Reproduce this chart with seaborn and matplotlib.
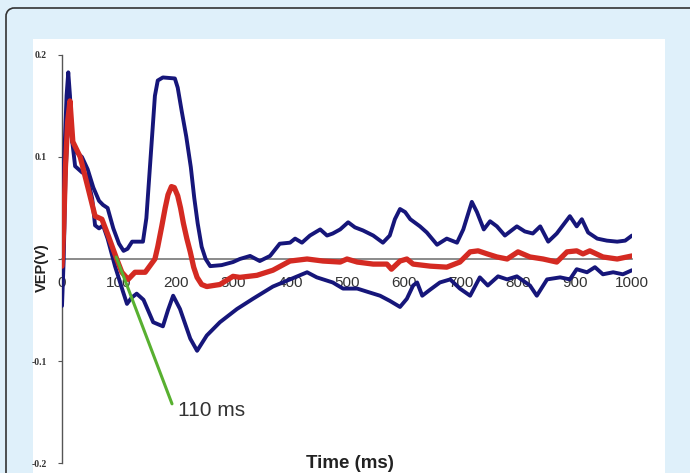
import matplotlib
matplotlib.use("Agg")
import matplotlib.pyplot as plt
import seaborn as sns
import pandas as pd
from matplotlib.patches import Arc, Rectangle

# ---------------- data ----------------
upper_t = [0, 4, 8, 11, 14, 18, 25, 35, 45, 55, 65, 72, 80, 90, 100, 108, 115, 123, 142,
           148, 153, 158, 163, 168, 177, 198, 203, 210, 218, 226, 232, 238, 245, 252, 260,
           280, 300, 312, 330, 347, 365, 382, 400, 409, 421, 435, 453, 465, 475, 488, 502,
           514, 528, 546, 563, 575, 584, 593, 602, 611, 628, 640, 658, 675, 693, 704, 719,
           728, 740, 751, 763, 777, 798, 812, 826, 839, 853, 868, 891, 903, 912, 923, 939,
           956, 974, 988, 1000]
upper_v = [0.0, 0.10, 0.16, 0.183, 0.16, 0.115, 0.105, 0.10, 0.088, 0.07, 0.057, 0.053,
           0.05, 0.03, 0.015, 0.008, 0.01, 0.017, 0.017, 0.04, 0.08, 0.12, 0.16, 0.175,
           0.178, 0.177, 0.168, 0.145, 0.12, 0.09, 0.06, 0.035, 0.012, 0.0, -0.007, -0.006,
           -0.003, 0.0, 0.003, -0.002, 0.003, 0.015, 0.016, 0.02, 0.016, 0.023, 0.029, 0.023,
           0.025, 0.029, 0.036, 0.031, 0.028, 0.023, 0.016, 0.023, 0.039, 0.049, 0.046,
           0.039, 0.032, 0.026, 0.014, 0.02, 0.016, 0.029, 0.056, 0.046, 0.029, 0.037, 0.032,
           0.023, 0.032, 0.027, 0.025, 0.032, 0.017, 0.025, 0.042, 0.032, 0.039, 0.026, 0.02,
           0.018, 0.017, 0.018, 0.023]

mean_t = [0, 3, 6, 10, 14, 19, 32, 46, 58, 70, 81, 96, 105, 116, 128, 146, 163, 168, 175,
          181, 186, 192, 197, 203, 208, 213, 219, 225, 231, 237, 245, 254, 277, 300, 312,
          342, 370, 400, 430, 458, 488, 500, 518, 546, 570, 578, 593, 605, 616, 646, 675,
          698, 716, 730, 746, 763, 781, 800, 821, 844, 868, 886, 903, 914, 926, 949, 974,
          1000]
mean_v = [-0.007, 0.03, 0.09, 0.135, 0.155, 0.115, 0.10, 0.069, 0.042, 0.039, 0.023, 0.0,
          -0.013, -0.02, -0.013, -0.013, 0.0, 0.012, 0.032, 0.05, 0.063, 0.071, 0.07, 0.062,
          0.05, 0.035, 0.02, 0.007, -0.008, -0.018, -0.025, -0.027, -0.025, -0.017, -0.018,
          -0.016, -0.011, -0.002, 0.0, -0.002, -0.003, 0.0, -0.003, -0.005, -0.005, -0.01,
          -0.002, 0.0, -0.005, -0.007, -0.008, -0.003, 0.007, 0.008, 0.005, 0.002, 0.0,
          0.007, 0.002, 0.0, -0.003, 0.007, 0.008, 0.005, 0.008, 0.002, 0.0, 0.003]

lower_t = [0, 3, 6, 10, 13, 17, 23, 35, 44, 53, 58, 65, 72, 80, 93, 107, 114, 122, 131, 143,
           160, 177, 186, 195, 207, 225, 237, 254, 277, 307, 335, 370, 400, 430, 447, 475,
           493, 518, 535, 558, 575, 593, 605, 616, 623, 632, 646, 663, 681, 698, 716, 733,
           747, 765, 781, 798, 821, 833, 851, 874, 891, 903, 921, 935, 949, 967, 984, 1000]
lower_v = [-0.046, 0.0, 0.08, 0.13, 0.154, 0.12, 0.091, 0.085, 0.082, 0.059, 0.033, 0.03,
           0.033, 0.02, -0.007, -0.032, -0.044, -0.038, -0.034, -0.04, -0.062, -0.066,
           -0.05, -0.036, -0.049, -0.078, -0.09, -0.075, -0.062, -0.049, -0.039, -0.027,
           -0.02, -0.013, -0.018, -0.023, -0.029, -0.029, -0.032, -0.036, -0.041, -0.047,
           -0.039, -0.026, -0.023, -0.036, -0.03, -0.023, -0.02, -0.029, -0.036, -0.018,
           -0.026, -0.017, -0.02, -0.017, -0.026, -0.036, -0.02, -0.018, -0.02, -0.01,
           -0.013, -0.008, -0.015, -0.013, -0.015, -0.011]

tangent_t = [95, 193]
tangent_v = [0.002, -0.142]

x_ticks = [0, 100, 200, 300, 400, 500, 600, 700, 800, 900, 1000]
y_ticks = [-0.2, -0.1, 0.0, 0.1, 0.2]
y_tick_labels = ["-0.2", "-0.1", "", "0.1", "0.2"]

# ---------------- figure ----------------
sns.set_theme(style="white")
plt.rcParams['font.family'] = ['Liberation Sans', 'DejaVu Sans']

W, H = 690, 473
fig = plt.figure(figsize=(W / 100, H / 100), dpi=100)
fig.patch.set_facecolor("#dff0fa")

# background decoration (pixel coordinates, y downward)
bg = fig.add_axes([0, 0, 1, 1], zorder=0)
bg.set_xlim(0, W)
bg.set_ylim(H, 0)
bg.axis("off")
r = 8
bcol = "#333333"
bg.plot([6 + r, W + 5], [8, 8], color=bcol, lw=1.2, solid_capstyle="butt")
bg.plot([6, 6], [8 + r, H + 5], color=bcol, lw=1.2, solid_capstyle="butt")
bg.add_patch(Arc((6 + r, 8 + r), 2 * r, 2 * r, theta1=180, theta2=270, color=bcol, lw=1.2))
bg.add_patch(Rectangle((33, 39), 632, 440, facecolor="white", edgecolor="none"))

ax = fig.add_axes([62 / W, 1 - 463 / H, 570 / W, 408 / H], zorder=1)
ax.set_facecolor("none")

navy = "#16167a"
red = "#d42a22"

df_u = pd.DataFrame({"t": upper_t, "v": upper_v})
df_m = pd.DataFrame({"t": mean_t, "v": mean_v})
df_l = pd.DataFrame({"t": lower_t, "v": lower_v})
df_g = pd.DataFrame({"t": tangent_t, "v": tangent_v})

common = dict(sort=False, estimator=None, solid_joinstyle="round", solid_capstyle="round")
sns.lineplot(data=df_u, x="t", y="v", ax=ax, color=navy, linewidth=2.8, zorder=3, **common)
sns.lineplot(data=df_l, x="t", y="v", ax=ax, color=navy, linewidth=2.8, zorder=3, **common)
sns.lineplot(data=df_m, x="t", y="v", ax=ax, color=red, linewidth=3.8, zorder=4, **common)
sns.lineplot(data=df_g, x="t", y="v", ax=ax, color="#58b030", linewidth=2.2, zorder=5,
             sort=False, estimator=None)

ax.text(203, -0.149, "110 ms", fontsize=15, color="#333333", ha="left", va="center")

ax.set_xlim(0, 1000)
ax.set_ylim(-0.2, 0.2)

ax.spines["top"].set_visible(False)
ax.spines["right"].set_visible(False)
ax.spines["bottom"].set_position(("data", 0))
ax.spines["bottom"].set_color("#777777")
ax.spines["bottom"].set_linewidth(1.2)
ax.spines["left"].set_color("#555555")
ax.spines["left"].set_linewidth(1.0)

ax.set_xticks(x_ticks)
ax.set_xticklabels([str(t) for t in x_ticks])
ax.set_yticks(y_ticks)
ax.set_yticklabels(y_tick_labels)

ax.tick_params(axis="x", direction="out", length=3, width=0.8, color="#777777",
               labelsize=11, labelcolor="#333333", pad=9)
ax.tick_params(axis="y", direction="out", length=3, width=0.8, color="#555555",
               labelsize=7, labelcolor="#333333", pad=8, left=True)
for lab in ax.get_yticklabels():
    lab.set_family(["Liberation Serif", "DejaVu Serif"])
    lab.set_fontweight("bold")

ax.set_xlabel("")
ax.set_ylabel("")
fig.text(42 / W, 1 - 268 / H, "VEP(V)", rotation=90, fontsize=10.5, fontweight="bold",
         color="#222222", ha="center", va="center")
fig.text(350 / W, 1 - 463 / H, "Time (ms)", fontsize=13.5, fontweight="bold",
         color="#222222", ha="center", va="center")

fig.savefig("out.png", dpi=100, facecolor=fig.get_facecolor())
